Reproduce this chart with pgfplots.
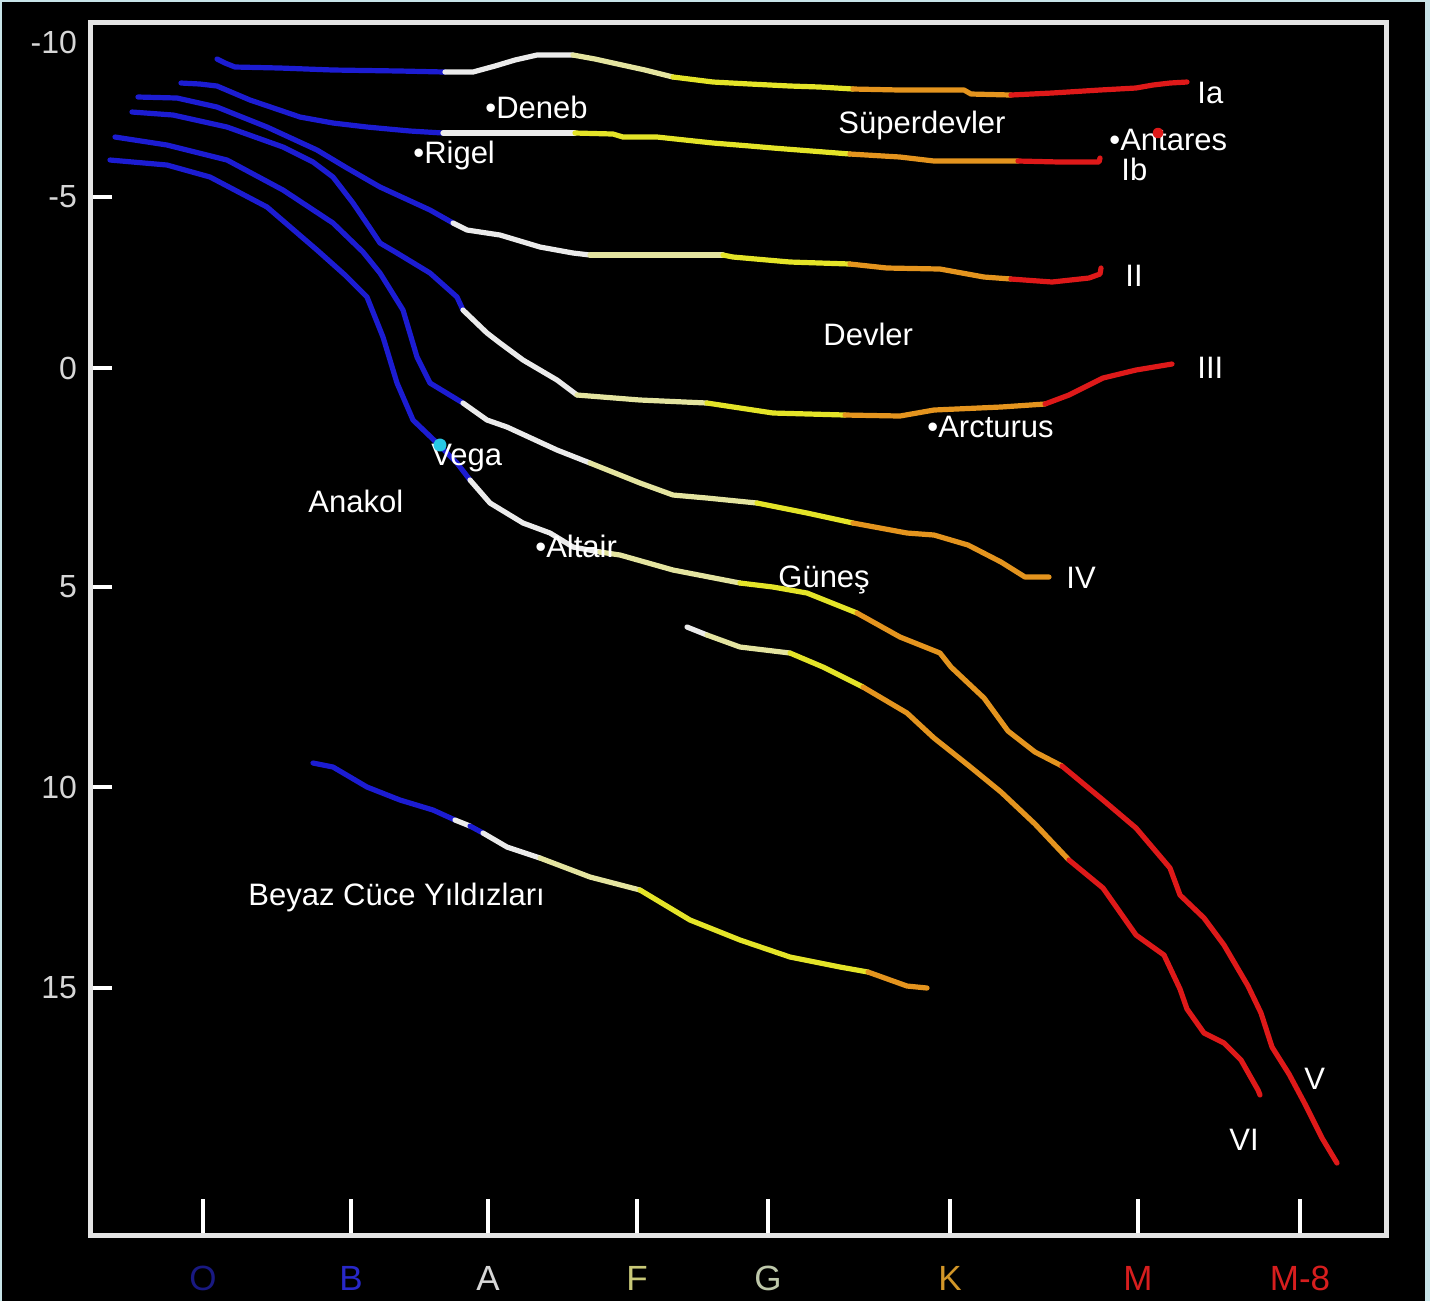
\documentclass[border=0pt]{standalone}
\usepackage{fontspec}
\setmainfont{Liberation Sans}
\usepackage{pgfplots}
\pgfplotsset{compat=1.18}
\definecolor{bordercol}{RGB}{200,228,232}
\definecolor{cBlue}{RGB}{28,28,210}
\definecolor{cWhite}{RGB}{235,235,235}
\definecolor{cPale}{RGB}{228,228,160}
\definecolor{cYellow}{RGB}{228,228,40}
\definecolor{cOrange}{RGB}{228,148,30}
\definecolor{cRed}{RGB}{222,25,25}
\definecolor{cFrame}{RGB}{228,228,228}
\definecolor{lO}{RGB}{25,25,130}
\definecolor{lB}{RGB}{40,40,200}
\definecolor{lA}{RGB}{215,215,215}
\definecolor{lF}{RGB}{200,200,120}
\definecolor{lG}{RGB}{190,200,170}
\definecolor{lK}{RGB}{210,150,40}
\definecolor{lM}{RGB}{215,30,30}
\newcommand\lab{\fontsize{15.5}{18}\selectfont}
\begin{document}
\begin{tikzpicture}
\fill[bordercol] (0pt,0pt) rectangle (715pt,-650.5pt);
\fill[black] (1.2pt,-1pt) rectangle (712.3pt,-650.5pt);
\begin{axis}[
  at={(45pt,-11pt)}, anchor=north west,
  width=648pt, height=606.5pt, scale only axis,
  xmin=90, xmax=1386, ymin=22, ymax=1235, y dir=reverse,
  axis line style={draw=cFrame, line width=2.5pt},
  xtick={203,351,488,637,768,950,1138,1300},
  xticklabels={\textcolor{lO}{O},\textcolor{lB}{B},\textcolor{lA}{A},\textcolor{lF}{F},\textcolor{lG}{G},\textcolor{lK}{K},\textcolor{lM}{M},\textcolor{lM}{M-8}},
  ytick={197,368,587,787,988},
  yticklabels={-5,0,5,10,15},
  extra y ticks={42}, extra y tick labels={-10},
  extra y tick style={ytick style={draw=none}},
  tick pos=left,
  tick align=inside,
  xtick style={draw=white, line width=2.2pt, /pgfplots/major tick length=18pt},
  ytick style={draw=white, line width=2.2pt, /pgfplots/major tick length=11pt},
  xticklabel style={font=\fontsize{17.5}{20}\selectfont, yshift=-12pt},
  yticklabel style={font=\fontsize{16}{19}\selectfont, text=lA, xshift=-3pt},
  clip=false,
  every axis plot/.append style={line width=2.6pt, line join=round, line cap=round},
]
% ---- Ia ----
\addplot[cBlue] coordinates {(217,59) (225,63) (235,67) (280,68) (333,70) (400,71) (445,72)};
\addplot[cWhite] coordinates {(445,72) (473,72) (495,66) (515,60) (537,55) (573,55)};
\addplot[cPale] coordinates {(573,55) (595,59) (613,63) (645,70) (673,77)};
\addplot[cYellow] coordinates {(673,77) (713,82) (750,84) (790,86) (820,87) (853,89)};
\addplot[cOrange] coordinates {(853,89) (900,90) (964,90) (971,94) (1011,95)};
\addplot[cRed] coordinates {(1011,95) (1052,93) (1100,90) (1136,88) (1153,85) (1170,83) (1187,82)};
% ---- Ib ----
\addplot[cBlue] coordinates {(181,83) (200,84) (217,86) (250,100) (300,117) (333,123) (367,127) (410,131) (443,133)};
\addplot[cWhite] coordinates {(443,133) (480,133) (520,133) (560,133) (575,133)};
\addplot[cYellow] coordinates {(575,133) (613,134) (623,137) (657,137) (713,143) (750,146) (773,148) (850,154)};
\addplot[cOrange] coordinates {(850,154) (900,157) (934,161) (1018,161)};
\addplot[cRed] coordinates {(1018,161) (1060,162) (1099,162) (1100,158)};
% ---- II ----
\addplot[cBlue] coordinates {(138,97) (177,98) (217,107) (267,127) (317,150) (347,168) (380,187) (430,210) (453,223)};
\addplot[cWhite] coordinates {(453,223) (467,230) (500,235) (540,247) (573,253) (590,255)};
\addplot[cPale] coordinates {(590,255) (650,255) (723,255)};
\addplot[cYellow] coordinates {(723,255) (733,257) (790,262) (850,264)};
\addplot[cOrange] coordinates {(850,264) (887,268) (940,269) (984,277) (1011,279)};
\addplot[cRed] coordinates {(1011,279) (1052,282) (1089,278) (1100,274) (1101,268)};
% ---- III ----
\addplot[cBlue] coordinates {(132,112) (173,115) (227,127) (283,147) (313,162) (333,177) (353,203) (370,228) (380,243) (397,253) (430,273) (457,297) (463,310)};
\addplot[cWhite] coordinates {(463,310) (487,333) (500,343) (523,360) (557,380) (577,395)};
\addplot[cPale] coordinates {(577,395) (640,400) (707,403)};
\addplot[cYellow] coordinates {(707,403) (740,408) (773,413) (845,415)};
\addplot[cOrange] coordinates {(845,415) (900,416) (934,410) (1001,407) (1045,404)};
\addplot[cRed] coordinates {(1045,404) (1069,395) (1103,378) (1136,370) (1172,364)};
% ---- IV ----
\addplot[cBlue] coordinates {(115,137) (167,145) (227,160) (283,190) (333,223) (363,252) (380,273) (403,310) (417,357) (430,383) (463,403)};
\addplot[cWhite] coordinates {(463,403) (487,420) (507,427) (557,450) (590,463)};
\addplot[cPale] coordinates {(590,463) (640,483) (673,495) (707,498) (757,503)};
\addplot[cYellow] coordinates {(757,503) (807,513) (853,523)};
\addplot[cOrange] coordinates {(853,523) (907,533) (934,535) (968,545) (1001,562) (1025,577) (1049,577)};
% ---- V ----
\addplot[cBlue] coordinates {(110,160) (167,165) (210,177) (267,207) (317,250) (345,275) (367,297) (383,337) (397,383) (413,420) (437,443) (457,463) (470,480)};
\addplot[cWhite] coordinates {(470,480) (490,503) (523,523) (550,533) (573,547) (600,552)};
\addplot[cPale] coordinates {(600,552) (620,555) (673,570) (740,583)};
\addplot[cYellow] coordinates {(740,583) (773,587) (807,593) (857,613)};
\addplot[cOrange] coordinates {(857,613) (900,637) (940,653) (951,667) (984,698) (1008,731) (1035,752) (1062,766)};
\addplot[cRed] coordinates {(1062,766) (1103,800) (1136,828) (1170,868) (1180,895) (1204,918) (1224,945) (1248,986) (1261,1013) (1272,1047) (1289,1074) (1305,1104) (1322,1138) (1337,1163)};
% ---- VI ----
\addplot[cWhite] coordinates {(687,627) (707,635)};
\addplot[cPale] coordinates {(707,635) (740,647) (790,653)};
\addplot[cYellow] coordinates {(790,653) (823,667) (863,687)};
\addplot[cOrange] coordinates {(863,687) (907,713) (934,738) (968,765) (1001,792) (1035,824) (1069,860)};
\addplot[cRed] coordinates {(1069,860) (1103,888) (1136,935) (1164,955) (1180,989) (1187,1009) (1204,1033) (1224,1043) (1241,1060) (1258,1090) (1260,1095)};
% ---- White dwarfs ----
\addplot[cBlue] coordinates {(313,763) (333,767) (367,787) (400,800) (433,810) (455,820)};
\addplot[cWhite] coordinates {(455,820) (470,826)};
\addplot[cBlue] coordinates {(470,826) (483,833)};
\addplot[cWhite] coordinates {(483,833) (507,847) (540,858)};
\addplot[cPale] coordinates {(540,858) (590,877) (640,890)};
\addplot[cYellow] coordinates {(640,890) (690,920) (740,940) (790,957) (840,967) (868,972)};
\addplot[cOrange] coordinates {(868,972) (907,986) (927,988)};
% ---- star markers ----
\addplot[only marks, mark=*, mark size=2pt, color={rgb,255:red,40;green,200;blue,230}] coordinates {(440,445)};
\addplot[only marks, mark=*, mark size=1.4pt, color=cRed] coordinates {(1158,133)};
% ---- labels ----
\node[anchor=base west, text=white, font=\lab, inner sep=0pt] at (axis cs:1197,103) {Ia};
\node[anchor=base west, text=white, font=\lab, inner sep=0pt] at (axis cs:485,118) {•Deneb};
\node[anchor=base west, text=white, font=\lab, inner sep=0pt] at (axis cs:838,133) {Süperdevler};
\node[anchor=base west, text=white, font=\lab, inner sep=0pt] at (axis cs:413,163) {•Rigel};
\node[anchor=base west, text=white, font=\lab, inner sep=0pt] at (axis cs:1109,150) {•Antares};
\node[anchor=base west, text=white, font=\lab, inner sep=0pt] at (axis cs:1121,180) {Ib};
\node[anchor=base west, text=white, font=\lab, inner sep=0pt] at (axis cs:1125,286) {II};
\node[anchor=base west, text=white, font=\lab, inner sep=0pt] at (axis cs:823,345) {Devler};
\node[anchor=base west, text=white, font=\lab, inner sep=0pt] at (axis cs:1197,378) {III};
\node[anchor=base west, text=white, font=\lab, inner sep=0pt] at (axis cs:927,437) {•Arcturus};
\node[anchor=base west, text=white, font=\lab, inner sep=0pt] at (axis cs:431,465) {Vega};
\node[anchor=base west, text=white, font=\lab, inner sep=0pt] at (axis cs:308,512) {Anakol};
\node[anchor=base west, text=white, font=\lab, inner sep=0pt] at (axis cs:535,557) {•Altair};
\node[anchor=base west, text=white, font=\lab, inner sep=0pt] at (axis cs:778,587) {Güneş};
\node[anchor=base west, text=white, font=\lab, inner sep=0pt] at (axis cs:1066,588) {IV};
\node[anchor=base west, text=white, font=\lab, inner sep=0pt] at (axis cs:248,905) {Beyaz Cüce Yıldızları};
\node[anchor=base west, text=white, font=\lab, inner sep=0pt] at (axis cs:1304,1089) {V};
\node[anchor=base west, text=white, font=\lab, inner sep=0pt] at (axis cs:1229,1150) {VI};
\end{axis}
\end{tikzpicture}
\end{document}
